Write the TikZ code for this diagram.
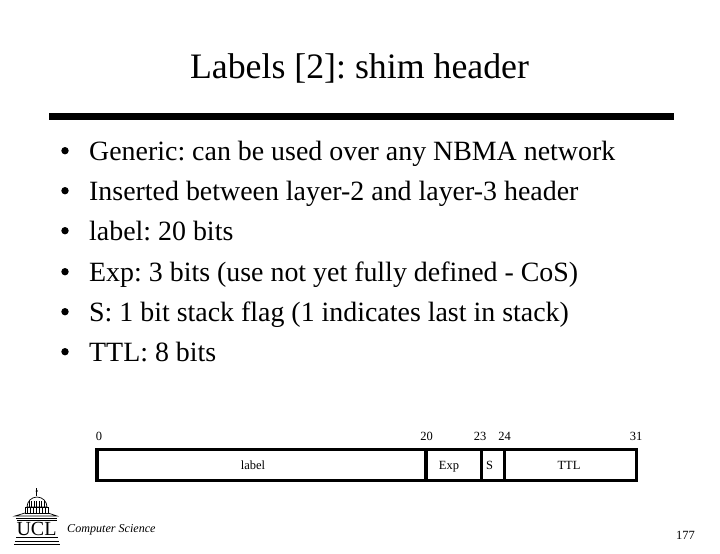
\documentclass[tikz,border=0pt]{standalone}
\usepackage{fontspec}
\setmainfont{Liberation Serif}
\frenchspacing
\tikzset{
  titletext/.style={inner sep=0pt,anchor=base,font=\fontsize{35.8}{36}\selectfont},
  bodytext/.style={inner sep=0pt,anchor=base west,font=\fontsize{27.9}{28}\selectfont},
  dot/.style={circle,fill=black,inner sep=0pt,minimum size=7.4pt},
  smalltext/.style={inner sep=0pt,anchor=base,font=\fontsize{12.5}{12.5}\selectfont},
  field/.style={line width=3.4pt,draw=black,line join=miter},
  logo/.style={line width=0.7pt,draw=black}
}
\begin{document}
\begin{tikzpicture}[x=1pt,y=-1pt]
\useasboundingbox (0,0) rectangle (720,554);
\node[titletext] (title) at (359.5,78) {Labels [2]: shim header};
\fill[black] (49,112.5) rectangle (674,120);
\foreach \n/\yy/\t in {a/160/{Generic: can be used over any NBMA network},
  b/200/{Inserted between layer-2 and layer-3 header},
  c/240/{label: 20 bits},
  d/281/{Exp: 3 bits (use not yet fully defined - CoS)},
  e/321/{S: 1 bit stack flag (1 indicates last in stack)},
  f/361/{TTL: 8 bits}}{
  \node[dot] (dot\n) at (65,\yy-9.3) {};
  \node[bodytext] (item\n) at (89,\yy) {\t};
}
\node[smalltext] (n0) at (99,440) {0};
\node[smalltext] (n20) at (426.5,440) {20};
\node[smalltext] (n23) at (480,440) {23};
\node[smalltext] (n24) at (504.5,440) {24};
\node[smalltext] (n31) at (636,440) {31};
\draw[field] (97,449.7) rectangle (636.5,480.3);
\draw[field] (426,450) -- (426,481);
\draw[field,line width=3pt] (481,450) -- (481,481);
\draw[field,line width=3pt] (504.5,450) -- (504.5,481);
\node[smalltext] (lbl) at (253,469) {label};
\node[smalltext] (exp) at (449,469) {Exp};
\node[smalltext] (s) at (489.5,469) {S};
\node[smalltext] (ttl) at (569,469) {TTL};
% logo
\draw[logo] (36.7,488) -- (36.7,496);
\fill[black] (36.7,491) circle (1.2pt);
\draw[logo,fill=white] (27,507) arc[start angle=180,end angle=0,radius=10pt] -- cycle;
\foreach \xx in {29,31.5,34,36.5,39,41.5,44}{\draw[line width=.5pt] (\xx,501) -- (\xx,507);}
\draw[logo] (25,507) rectangle (48,513);
\foreach \xx in {27,30,33,36,39,42,45}{\draw[line width=.5pt] (\xx,507) -- (\xx,513);}
\draw[logo] (25,513) -- (15,516) -- (57,516) -- (48,513);
\draw[logo] (16,518) -- (57,518);
\node[inner sep=0pt,anchor=base,font=\fontsize{20}{20}\selectfont] (ucl) at (36.5,535) {UCL};
\draw[logo] (17,520) -- (57,520);
\draw[logo] (16,537) -- (58,537);
\draw[logo] (15,541) -- (59,541);
\draw[logo] (14,544) -- (60,544);
\node[inner sep=0pt,anchor=base west,font=\fontsize{12.1}{12}\selectfont\itshape] (cs) at (67,532) {Computer Science};
\node[smalltext] (page) at (685.5,539) {177};
\end{tikzpicture}
\end{document}
